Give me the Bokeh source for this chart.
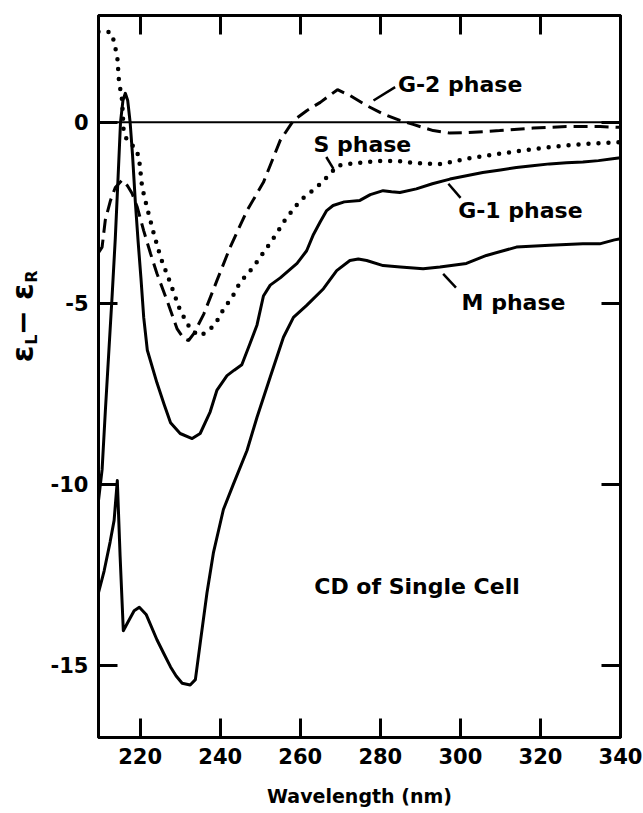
import math
from bokeh.plotting import figure
from bokeh.layouts import row
from bokeh.models import Range1d, LinearAxis, FixedTicker, Span, Label
from bokeh.core.properties import value
from bokeh.embed import file_html
from bokeh.resources import INLINE

# ---------------- data ----------------
g1_wl = [209.6, 210.5, 211.3, 212.2, 213.0, 213.8, 214.5, 215.1, 215.7, 216.3,
         216.9, 217.5, 218.1, 218.8, 219.5, 220.2, 220.9, 221.8, 224.2, 226.0,
         227.6, 230.0, 233.0, 235.0, 237.5, 239.2, 241.7, 243.5, 245.4, 247.5,
         249.2, 250.8, 252.5, 255.0, 259.2, 261.6, 263.3, 265.0, 266.6, 268.2,
         271.0, 274.9, 277.5, 280.7, 282.8, 284.9, 289.0, 293.0, 297.4, 301.5,
         305.6, 310.0, 314.0, 318.0, 322.3, 326.5, 330.6, 334.5, 338.5, 340.0]
g1_val = [-10.45, -9.6, -8.0, -6.3, -4.8, -3.2, -1.5, 0.0, 0.6, 0.8,
          0.6, 0.0, -0.9, -2.2, -3.3, -4.3, -5.4, -6.3, -7.2, -7.8,
          -8.3, -8.6, -8.74, -8.6, -8.0, -7.4, -7.0, -6.85, -6.7, -6.1,
          -5.6, -4.8, -4.5, -4.3, -3.9, -3.55, -3.1, -2.75, -2.44, -2.3,
          -2.2, -2.16, -2.0, -1.89, -1.92, -1.94, -1.84, -1.7, -1.57, -1.48,
          -1.39, -1.32, -1.25, -1.2, -1.15, -1.12, -1.1, -1.06, -1.0, -0.98]

m_wl = [209.6, 211.0, 212.5, 213.5, 214.3, 215.0, 215.8, 217.0, 218.5, 219.8,
        221.5, 224.2, 226.0, 227.6, 229.0, 230.5, 232.5, 233.8, 235.0, 236.7,
        238.3, 240.8, 243.3, 246.7, 249.2, 252.5, 255.8, 258.3, 261.6, 265.8,
        269.1, 272.4, 274.5, 276.6, 280.7, 285.0, 290.7, 294.9, 301.5, 306.5,
        314.0, 322.3, 330.6, 334.8, 338.5, 340.0]
m_val = [-13.0, -12.4, -11.6, -11.0, -9.9, -12.0, -14.05, -13.8, -13.5, -13.4,
         -13.6, -14.3, -14.7, -15.05, -15.3, -15.5, -15.55, -15.4, -14.4, -13.0,
         -11.9, -10.7, -10.0, -9.07, -8.15, -7.04, -5.94, -5.39, -5.06, -4.6,
         -4.1, -3.82, -3.78, -3.82, -3.96, -4.0, -4.05, -4.0, -3.9, -3.68,
         -3.45, -3.4, -3.36, -3.36, -3.25, -3.22]

s_wl = [209.6, 210.9, 212.6, 213.4, 214.3, 214.7, 215.5, 215.9, 216.8, 217.6,
        218.8, 219.7, 220.5, 221.7, 223.4, 225.1, 227.6, 230.0, 232.5, 234.6,
        236.7, 238.8, 240.9, 243.0, 245.0, 248.3, 250.8, 252.9, 254.5, 256.2,
        260.0, 264.1, 267.9, 269.1, 272.4, 276.6, 280.7, 284.9, 289.0, 293.2,
        295.6, 301.5, 309.8, 318.2, 326.5, 334.0, 340.0]
s_val = [2.5, 2.5, 2.49, 2.26, 1.8, 1.15, 0.6, -0.3, -0.5, -0.6,
         -0.7, -0.97, -1.8, -2.35, -3.07, -3.73, -4.46, -5.2, -5.7, -5.9,
         -5.8, -5.57, -5.15, -4.83, -4.42, -4.0, -3.6, -3.27, -3.0, -2.7,
         -2.16, -1.8, -1.38, -1.2, -1.15, -1.1, -1.06, -1.08, -1.13, -1.15,
         -1.15, -1.01, -0.87, -0.74, -0.64, -0.58, -0.55]

g2_wl = [209.6, 210.5, 211.3, 212.6, 213.8, 215.5, 216.8, 218.0, 219.3, 220.9,
         222.6, 224.2, 226.7, 229.2, 230.9, 232.1, 233.4, 235.9, 239.2, 242.5,
         246.7, 250.8, 255.0, 258.3, 261.6, 265.0, 269.3, 272.4, 276.6, 280.7,
         284.9, 288.2, 293.2, 297.4, 301.5, 309.8, 318.2, 326.5, 334.9, 340.0]
g2_val = [-3.6, -3.45, -2.7, -2.16, -1.8, -1.6, -1.75, -1.97, -2.35, -3.0,
          -3.63, -4.18, -4.92, -5.7, -5.98, -6.03, -5.84, -5.3, -4.37, -3.45,
          -2.44, -1.66, -0.5, 0.05, 0.32, 0.55, 0.9, 0.74, 0.46, 0.23,
          0.05, -0.06, -0.23, -0.3, -0.29, -0.23, -0.16, -0.12, -0.12, -0.14]

x_ticks = [220, 240, 260, 280, 300, 320, 340]
y_ticks = [0, -5, -10, -15]
y_tick_labels = {0: "0", -5: "-5", -10: "-10", -15: "-15"}

phase_labels = ["G-2 phase", "S phase", "G-1 phase", "M phase"]
label_x = [284.4, 263.3, 299.45, 300.3]
label_y = [1.04, -0.62, -2.44, -4.97]
leader_x0 = [278.3, 266.5, 297.0, 295.7]
leader_y0 = [0.60, -0.96, -1.70, -4.19]
leader_x1 = [283.7, 268.3, 300.05, 298.9]
leader_y1 = [0.97, -1.29, -2.09, -4.57]

note_text = "CD of Single Cell"
note_x, note_y = 263.5, -12.83

x_title = "Wavelength (nm)"
# y title pieces: epsilon_L - epsilon_R (rotated)
ytitle_main = ["\u03b5", "\u2212", "\u03b5"]
ytitle_subs = ["L", "R"]

X_MIN, X_MAX = 209.6, 340.0
Y_MIN, Y_MAX = -17.0, 2.95

FONT = "DejaVu Sans"
TITLE_W = 45
TOTAL_W, TOTAL_H = 643, 813

# ---------------- main figure ----------------
p = figure(width=TOTAL_W - TITLE_W, height=TOTAL_H, output_backend="svg",
           toolbar_location=None,
           x_range=Range1d(X_MIN, X_MAX), y_range=Range1d(Y_MIN, Y_MAX),
           min_border_left=98 - TITLE_W, min_border_right=23,
           min_border_top=15, min_border_bottom=76)
p.grid.visible = False
p.outline_line_color = "black"
p.outline_line_width = 3
p.background_fill_color = "white"
p.border_fill_color = "white"


def style_axis(ax, show_labels):
    ax.axis_line_width = 3
    ax.axis_line_color = "black"
    ax.major_tick_in = 19
    ax.major_tick_out = 0
    ax.major_tick_line_width = 3
    ax.minor_tick_line_color = None
    ax.major_label_text_font = FONT
    ax.major_label_text_font_style = "bold"
    if show_labels:
        ax.major_label_text_color = "black"
        ax.major_label_text_font_size = "21px"
    else:
        ax.major_label_text_color = None
        ax.major_label_text_font_size = "8px"
        ax.major_label_standoff = 0


xb = p.xaxis[0]
style_axis(xb, True)
xb.ticker = FixedTicker(ticks=x_ticks)
xb.major_label_standoff = 10
xb.axis_label = x_title
xb.axis_label_text_font = FONT
xb.axis_label_text_font_style = "bold"
xb.axis_label_text_font_size = "19px"
xb.axis_label_text_color = "black"
xb.axis_label_standoff = 18

yl = p.yaxis[0]
style_axis(yl, True)
yl.ticker = FixedTicker(ticks=y_ticks)
yl.major_label_overrides = y_tick_labels
yl.major_label_standoff = 10

xt = LinearAxis()
style_axis(xt, False)
xt.ticker = FixedTicker(ticks=x_ticks)
p.add_layout(xt, "above")

yr = LinearAxis()
style_axis(yr, False)
yr.ticker = FixedTicker(ticks=y_ticks)
p.add_layout(yr, "right")

# zero line
p.add_layout(Span(location=0, dimension="width", line_color="black",
                  line_width=2))

# curves
p.line(g1_wl, g1_val, line_color="black", line_width=3, line_join="round")
p.line(m_wl, m_val, line_color="black", line_width=3, line_join="round")
p.line(s_wl, s_val, line_color="black", line_width=4.5, line_dash="0 10",
       line_cap="round")
p.line(g2_wl, g2_val, line_color="black", line_width=3, line_dash="14 7")

# leader lines
p.segment(x0=leader_x0, y0=leader_y0, x1=leader_x1, y1=leader_y1,
          line_color="black", line_width=2.5)

# phase labels
for txt, lx, ly in zip(phase_labels, label_x, label_y):
    p.add_layout(Label(x=lx, y=ly, text=txt, text_font=FONT,
                       text_font_style="bold", text_font_size="22px",
                       text_align="left", text_baseline="middle",
                       text_color="black"))

p.add_layout(Label(x=note_x, y=note_y, text=note_text, text_font=FONT,
                   text_font_style="bold", text_font_size="22px",
                   text_align="left", text_baseline="middle",
                   text_color="black"))

# ---------------- y-title strip (page-pixel coordinates) ----------------
t = figure(width=TITLE_W, height=TOTAL_H, output_backend="svg",
           toolbar_location=None, x_range=Range1d(0, TITLE_W),
           y_range=Range1d(TOTAL_H, 0), min_border=0)
t.axis.visible = False
t.grid.visible = False
t.outline_line_color = None
t.background_fill_color = "white"
t.border_fill_color = "white"

t.text(x=[22, 21, 22], y=[381, 346, 311], text=ytitle_main,
       angle=math.pi / 2, text_align="center", text_baseline="middle",
       text_font=value(FONT), text_font_style="bold",
       text_font_size=value("30px"), text_color="black")
t.text(x=[31, 31], y=[365, 294], text=ytitle_subs,
       angle=math.pi / 2, text_align="center", text_baseline="middle",
       text_font=value(FONT), text_font_style="bold",
       text_font_size=value("16px"), text_color="black")

layout = row(t, p)
open("out.html", "w").write(file_html(layout, INLINE))
